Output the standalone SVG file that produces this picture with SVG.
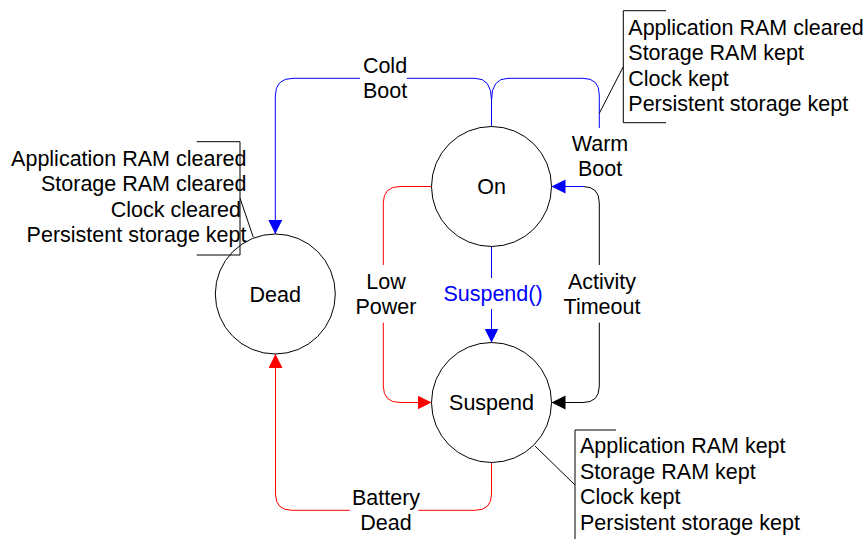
<svg xmlns="http://www.w3.org/2000/svg" width="867" height="539" viewBox="0 0 867 539">
  <style>
    text { font-family: "Liberation Sans", Arial, sans-serif; font-size: 21.5px; fill: #000; }
    .mid { text-anchor: middle; }
    .end { text-anchor: end; }
    .state { fill: #fff; stroke: #000; stroke-width: 1; }
    .note { fill: none; stroke: #000; stroke-width: 1; }
    .blue { fill: none; stroke: #0000ff; stroke-width: 1; }
    .red { fill: none; stroke: #ff0000; stroke-width: 1; }
    .black { fill: none; stroke: #000; stroke-width: 1; }
  </style>
  <defs>
    <marker id="arrowBlue" markerUnits="userSpaceOnUse" markerWidth="15" markerHeight="15" refX="14" refY="7" orient="auto">
      <path d="M0,0 L14,7 L0,14 z" fill="#0000ff"/>
    </marker>
    <marker id="arrowRed" markerUnits="userSpaceOnUse" markerWidth="15" markerHeight="15" refX="14" refY="7" orient="auto">
      <path d="M0,0 L14,7 L0,14 z" fill="#ff0000"/>
    </marker>
    <marker id="arrowBlack" markerUnits="userSpaceOnUse" markerWidth="15" markerHeight="15" refX="14" refY="7" orient="auto">
      <path d="M0,0 L14,7 L0,14 z" fill="#000"/>
    </marker>
  </defs>
  <rect width="867" height="539" fill="#fff"/>

  <g id="connectors">
    <!-- Activity Timeout: On -> Suspend -->
    <path class="black" marker-end="url(#arrowBlack)" d="M551.5,186.5 H583 Q599.3,186.5 599.3,203 V265 M599.3,322.7 V386 Q599.3,402.5 583,402.5 H551.5"/>
    <!-- Cold Boot: On -> Dead -->
    <path class="blue" marker-end="url(#arrowBlue)" d="M491.5,126.5 V100 Q491.5,78.3 475,78.3 H406.7 M360,78.3 H293 Q275.3,78.3 275.3,96 V234"/>
    <!-- Warm Boot: On -> On -->
    <path class="blue" d="M491.5,100 Q491.5,78.3 508,78.3 H583 Q599.3,78.3 599.3,95 V128"/>
    <path class="blue" marker-end="url(#arrowBlue)" d="M584,186.5 H551.5"/>
    <!-- Suspend(): On -> Suspend -->
    <path class="blue" marker-end="url(#arrowBlue)" d="M491.5,246.5 V278 M491.5,309 V342.5"/>
    <!-- Low Power: On -> Suspend -->
    <path class="red" marker-end="url(#arrowRed)" d="M431.5,186.5 H400 Q383.3,186.5 383.3,203 V265 M383.3,322.7 V386 Q383.3,402.5 400,402.5 H431.5"/>
    <!-- Battery Dead: Suspend -> Dead -->
    <path class="red" marker-end="url(#arrowRed)" d="M491.5,462.5 V494 Q491.5,510.3 475,510.3 H418.3 M350,510.3 H292 Q275.5,510.3 275.5,494 V354"/>

    <text class="mid" x="385" y="72.5">Cold</text>
    <text class="mid" x="385" y="97.5">Boot</text>
    <text class="mid" x="600" y="150.5">Warm</text>
    <text class="mid" x="600" y="176">Boot</text>
    <text class="mid" x="386" y="288.5">Low</text>
    <text class="mid" x="386" y="313.5">Power</text>
    <text class="mid" x="493" y="301" style="fill:#0000ff">Suspend()</text>
    <text class="mid" x="602" y="288.5">Activity</text>
    <text class="mid" x="602" y="313.5">Timeout</text>
    <text class="mid" x="386" y="504.5">Battery</text>
    <text class="mid" x="386" y="529.5">Dead</text>
  </g>

  <g id="state-on">
    <circle class="state" cx="491.5" cy="186.5" r="60"/>
    <text class="mid" x="491.5" y="194">On</text>
  </g>

  <g id="state-suspend">
    <circle class="state" cx="491.5" cy="402.5" r="60"/>
    <text class="mid" x="491.5" y="410">Suspend</text>
  </g>

  <g id="state-dead">
    <circle class="state" cx="275.3" cy="294" r="60"/>
    <text class="mid" x="275.3" y="301.5">Dead</text>
  </g>

  <g id="note-dead">
    <path class="note" d="M196.7,141.7 H240 V255 H196.7 M240,198 L253.3,237.3"/>
    <text class="end" x="246.5" y="165.5">Application RAM cleared</text>
    <text class="end" x="246.5" y="191">Storage RAM cleared</text>
    <text class="end" x="241" y="216.5">Clock cleared</text>
    <text class="end" x="246.5" y="242">Persistent storage kept</text>
  </g>

  <g id="note-on">
    <path class="note" d="M666,10.7 H623.3 V122.7 H666 M623.3,66.7 L599.3,113.3"/>
    <text x="628.3" y="35">Application RAM cleared</text>
    <text x="628.3" y="60">Storage RAM kept</text>
    <text x="628.3" y="85.5">Clock kept</text>
    <text x="628.3" y="110.5">Persistent storage kept</text>
  </g>

  <g id="note-suspend">
    <path class="note" d="M616,430 H575 V545 M575,485 L535,446"/>
    <text x="580" y="453">Application RAM kept</text>
    <text x="580" y="478.5">Storage RAM kept</text>
    <text x="580" y="504">Clock kept</text>
    <text x="580" y="529.5">Persistent storage kept</text>
  </g>
</svg>
